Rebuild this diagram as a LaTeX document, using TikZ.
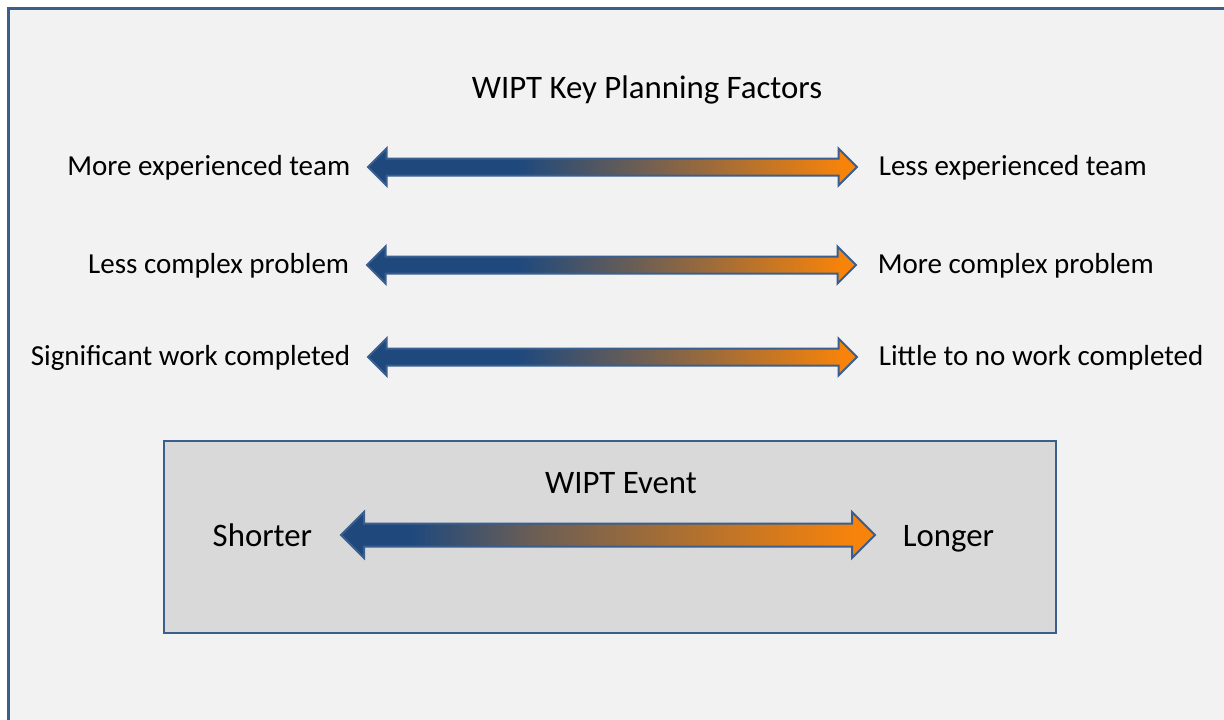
\documentclass[tikz,border=0pt]{standalone}
\usepackage{fontspec}
\setmainfont{Carlito}
\usetikzlibrary{shapes, arrows, positioning, calc}
\definecolor{frameblue}{HTML}{3A5F8F}
\definecolor{wiptblue}{HTML}{1F497D}
\definecolor{wiptmid}{HTML}{6B5E55}
\definecolor{wiptorange}{HTML}{F7830A}
\definecolor{panelgray}{HTML}{F2F2F2}
\definecolor{eventgray}{HTML}{D9D9D9}
\pgfdeclarehorizontalshading{planshade}{100bp}{color(0bp)=(wiptblue); color(40.5bp)=(wiptblue); color(52.5bp)=(wiptmid); color(73.5bp)=(wiptorange); color(100bp)=(wiptorange)}
\pgfdeclarehorizontalshading{eventshade}{100bp}{color(0bp)=(wiptblue); color(31.5bp)=(wiptblue); color(43bp)=(wiptmid); color(73bp)=(wiptorange); color(100bp)=(wiptorange)}
\tikzstyle{planarrow} = [double arrow, draw=frameblue, line width=1pt, shading=planshade, inner xsep=0pt, inner ysep=3.75pt, minimum height=244.5pt, double arrow head extend=5pt, double arrow tip angle=90]
\tikzstyle{eventarrow} = [double arrow, draw=frameblue, line width=1pt, shading=eventshade, inner xsep=0pt, inner ysep=5.25pt, minimum height=267pt, double arrow head extend=5.75pt, double arrow tip angle=90]
\tikzstyle{factor} = [inner sep=0pt, text height=1em, text depth=0.15em, font=\fontsize{14.5}{17}\selectfont]
\tikzstyle{heading} = [inner sep=0pt, text height=1.18em, text depth=0em, font=\fontsize{16.4}{19}\selectfont]

\begin{document}
\begin{tikzpicture}[x=0.5pt, y=-0.5pt]
		\fill[white] (0, 0) rectangle (1224, 719);
		\useasboundingbox (0, 0) rectangle (1224, 719);
		\coordinate (title)   at (647,   87);
		\coordinate (team)    at (612.5, 167);
		\coordinate (problem) at (611.5, 265);
		\coordinate (work)    at (612.5, 357);
		\coordinate (event)   at (621,   481.5);
		\coordinate (length)  at (608,   535);

		\draw[fill=panelgray, draw=frameblue, line width=1.5pt] (8, 8) rectangle (1240, 740);
		\draw[fill=eventgray, draw=frameblue, line width=1.25pt] (164, 441) rectangle (1056, 633);

		\node[heading] (TIT) at (title) {WIPT Key Planning Factors};

		\node[planarrow] (TEA) at (team) {};
		\node[factor, left=8pt of TEA] (TEL) {More experienced team};
		\node[factor, right=10pt of TEA] (TER) {Less experienced team};

		\node[planarrow] (PRO) at (problem) {};
		\node[factor, left=8pt of PRO] (PRL) {Less complex problem};
		\node[factor, right=10pt of PRO] (PRR) {More complex problem};

		\node[planarrow] (WOR) at (work) {};
		\node[factor, left=8pt of WOR] (WOL) {Significant work completed};
		\node[factor, right=10pt of WOR] (WOR2) {Little to no work completed};

		\node[heading] (EVT) at (event) {WIPT Event};
		\node[eventarrow] (LEN) at (length) {};
		\node[heading, left=13.5pt of LEN] (SHO) {Shorter};
		\node[heading, right=13pt of LEN] (LON) {Longer};
	\end{tikzpicture}
\end{document}
